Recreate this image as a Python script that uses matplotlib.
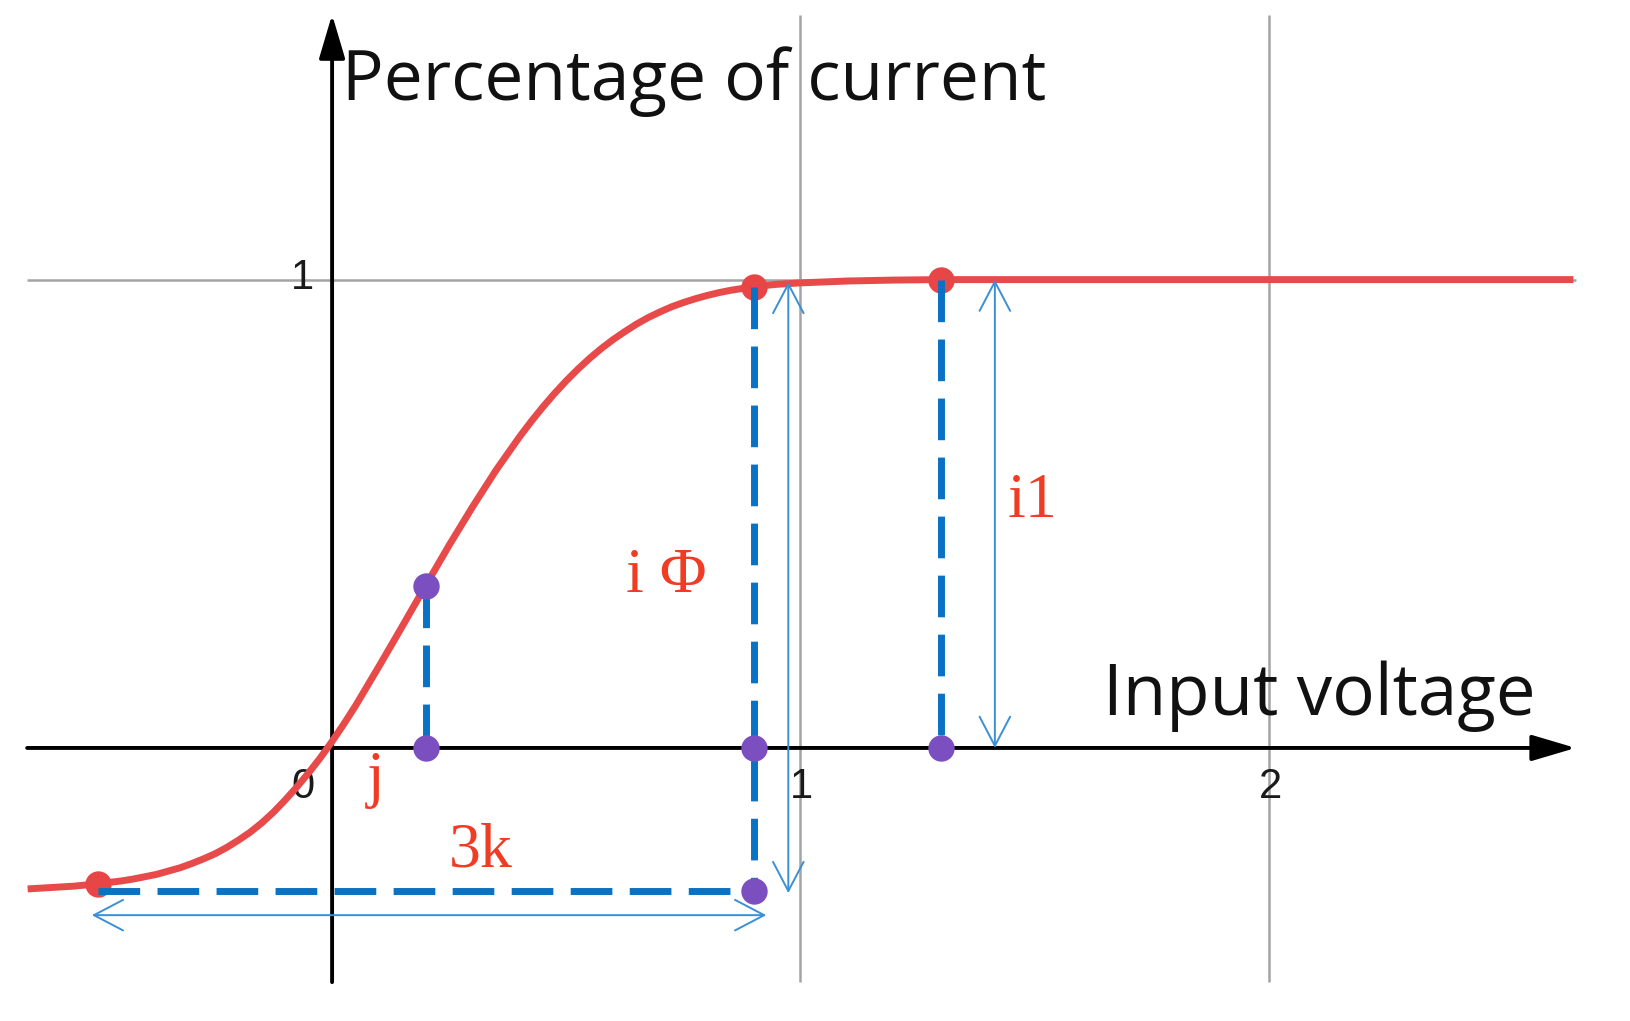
import matplotlib
matplotlib.use('Agg')
import matplotlib.pyplot as plt
from matplotlib.patches import FancyArrowPatch

# sigmoid curve
curve_x = [-0.65, -0.60, -0.55, -0.50, -0.45, -0.425, -0.40, -0.375, -0.35, -0.325,
           -0.30, -0.275, -0.25, -0.225, -0.20, -0.175, -0.15, -0.125, -0.10, -0.075,
           -0.05, -0.025, 0.00, 0.025, 0.05, 0.10, 0.15, 0.20, 0.25, 0.30,
           0.35, 0.40, 0.425, 0.45, 0.475, 0.50, 0.525, 0.55, 0.575, 0.60,
           0.625, 0.65, 0.675, 0.70, 0.725, 0.75, 0.775, 0.80, 0.825, 0.85,
           0.875, 0.90, 0.95, 1.00, 1.10, 1.20, 1.30, 2.65]
curve_y = [-0.301, -0.298, -0.295, -0.290, -0.284, -0.280, -0.275, -0.270, -0.263, -0.256,
           -0.247, -0.237, -0.226, -0.2125, -0.197, -0.180, -0.160, -0.137, -0.111, -0.083,
           -0.053, -0.021, 0.014, 0.051, 0.090, 0.174, 0.260, 0.347, 0.433, 0.515,
           0.593, 0.664, 0.697, 0.728, 0.757, 0.784, 0.809, 0.832, 0.853, 0.872,
           0.889, 0.905, 0.919, 0.931, 0.942, 0.951, 0.959, 0.966, 0.972, 0.977,
           0.981, 0.985, 0.990, 0.993, 0.997, 0.999, 1.000, 1.000]

# marked points
red_x = [-0.5, 0.9, 1.3]
red_y = [-0.29, 0.985, 1.0]
purple_x = [0.2, 0.2, 0.9, 1.3, 0.9]
purple_y = [0.346, 0.0, 0.0, 0.0, -0.305]

# dashed guide lines (x0, y0, x1, y1)
guides = [(0.2, 0.346, 0.2, 0.0),
          (0.9, 0.985, 0.9, -0.305),
          (1.3, 1.0, 1.3, 0.0),
          (-0.5, -0.305, 0.9, -0.305)]

# double arrows (x0, y0, x1, y1)
spans = [(0.974, 0.995, 0.974, -0.31),
         (1.415, 1.0, 1.415, 0.0),
         (-0.513, -0.357, 0.927, -0.357)]

# red labels: text, x, y (left, baseline)
labels = [('i Φ', 0.627, 0.332),
          ('i1', 1.443, 0.494),
          ('j', 0.075, -0.100),
          ('3k', 0.250, -0.253)]

xtick_vals = [0, 1, 2]
xtick_text = ['0', '1', '2']
ytick_vals = [1]
ytick_text = ['1']

x_lo, x_hi = -0.651, 2.655
y_lo, y_hi = -0.5, 1.566
grid_top = 1.565


def main():
	fig = plt.figure(figsize=(16.3, 10.21), dpi=100)
	ax = fig.add_axes([0, 0, 1, 1])
	ax.set_xlim(-0.709, 2.771)
	ax.set_ylim(-0.583, 1.597)
	ax.axis('off')

	# grid
	ax.vlines([v for v in xtick_vals if v != 0], y_lo, grid_top, color='#a4a4a4', lw=1.8, zorder=1)
	ax.hlines(ytick_vals, x_lo, x_hi, color='#a4a4a4', lw=1.8, zorder=1)

	# axes with arrow heads
	for a, b in [((x_lo, 0), (x_hi, 0)), ((0, y_lo), (0, y_hi))]:
		ax.add_patch(FancyArrowPatch(a, b, arrowstyle='-|>,head_length=27,head_width=8',
			mutation_scale=1, lw=2.8, color='black', shrinkA=0, shrinkB=0, zorder=2))

	# tick labels
	for v, t in zip(xtick_vals, xtick_text):
		off = -0.063 if v == 0 else 0.003
		ax.text(v + off, -0.0825, t, fontsize=30, family='Liberation Sans',
			color='#1a1a1a', ha='center', va='center')
	for v, t in zip(ytick_vals, ytick_text):
		ax.text(-0.063, v + 0.003, t, fontsize=30, family='Liberation Sans',
			color='#1a1a1a', ha='center', va='center')

	# curve and points
	ax.plot(curve_x, curve_y, color='#e84a4a', lw=5, solid_capstyle='butt',
		solid_joinstyle='round', zorder=3)
	ax.plot(red_x, red_y, 'o', color='#e84646', ms=19, mec='none', zorder=4)

	for x0, y0, x1, y1 in guides:
		ax.plot([x0, x1], [y0, y1], color='#0a72c4', lw=5, dashes=(6, 2.5),
			dash_capstyle='butt', zorder=5)

	ax.plot(purple_x, purple_y, 'o', color='#7b4fc0', ms=19, mec='none', zorder=6)

	for x0, y0, x1, y1 in spans:
		ax.add_patch(FancyArrowPatch((x0, y0), (x1, y1),
			arrowstyle='<->,head_length=21,head_width=11', mutation_scale=1,
			lw=1.4, color='#3b8fd5', shrinkA=0, shrinkB=0, zorder=7))

	for t, x, y in labels:
		ax.text(x, y, t, fontsize=46, family='Liberation Serif', color='#f03c24',
			ha='left', va='baseline', zorder=8)

	ax.text(0.022, 1.383, 'Percentage of current', fontsize=50, family='Open Sans',
		color='#111111', ha='left', va='baseline')
	ax.text(1.645, 0.070, 'Input voltage', fontsize=51, family='Open Sans',
		color='#111111', ha='left', va='baseline')

	fig.savefig('out.png', dpi=100)

if __name__ == "__main__":
	main()
